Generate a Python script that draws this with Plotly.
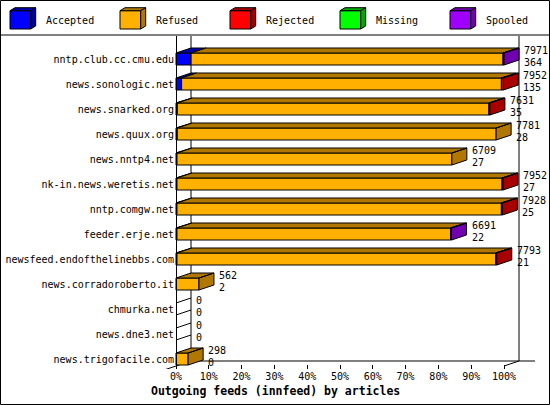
import plotly.graph_objects as go

hosts = ['nntp.club.cc.cmu.edu', 'news.sonologic.net', 'news.snarked.org', 'news.quux.org',
         'news.nntp4.net', 'nk-in.news.weretis.net', 'nntp.comgw.net', 'feeder.erje.net',
         'newsfeed.endofthelinebbs.com', 'news.corradoroberto.it', 'chmurka.net',
         'news.dne3.net', 'news.trigofacile.com']
series = ['Accepted', 'Refused', 'Rejected', 'Missing', 'Spooled']

# bar lengths in %
accepted = [4.6, 1.7, 0.4, 0.4, 0.3, 0.3, 0.3, 0.3, 0.3, 0, 0, 0, 0]
refused = [95.1, 97.5, 95.0, 97.2, 83.8, 99.1, 98.9, 83.4, 97.2, 7.0, 0, 0, 3.7]
rejected = [0, 0.6, 0.3, 0, 0, 0.3, 0.3, 0, 0.3, 0, 0, 0, 0]
missing = [0, 0, 0, 0, 0, 0, 0, 0, 0, 0, 0, 0, 0]
spooled = [0.3, 0, 0, 0, 0, 0, 0, 0.3, 0, 0, 0, 0, 0]

# numbers printed at the end of each bar
offered_lbl = [7971, 7952, 7631, 7781, 6709, 7952, 7928, 6691, 7793, 562, 0, 0, 298]
accepted_lbl = [364, 135, 35, 28, 27, 27, 25, 22, 21, 2, 0, 0, 0]

x_ticks = list(range(0, 101, 10))
x_ticktext = ['%d%%' % t for t in x_ticks]

colors = ['#0000ff', '#ffb000', '#ff0000', '#00ff00', '#a000ff']
shades = ['#0000a8', '#b07800', '#a80000', '#00a800', '#7000b0']

W, H = 550, 405
PX_PCT = 3.28      # pixels per percent
X0 = 176           # pixel of 0%
ROW = 25           # pixels between rows
LAST_Y = 359       # pixel of last row centre
TOP, BOT = 36, 369
DX = 15 / PX_PCT   # 3d depth
DY = 5 / ROW
HB = 6 / ROW       # half bar height

n = len(hosts)
ypos = [n - 1 - i for i in range(n)]
values = [accepted, refused, rejected, missing, spooled]

front = [([], []) for _ in series]
dark = [([], []) for _ in series]


def add(poly, pts):
    for x, y in pts + [pts[0]]:
        poly[0].append(x)
        poly[1].append(y)
    poly[0].append(None)
    poly[1].append(None)


totals = []
zero_x, zero_y = [], []
for r in range(n):
    yt, yb = ypos[r] + HB, ypos[r] - HB
    nz = [k for k in range(len(series)) if values[k][r] > 0]
    left = 0
    for k in nz:
        x1 = left + values[k][r]
        add(front[k], [(left, yb), (x1, yb), (x1, yt), (left, yt)])
        add(dark[k], [(left, yt), (left + DX, yt + DY), (x1 + DX, yt + DY), (x1, yt)])
        if k == nz[-1]:
            add(dark[k], [(x1, yb), (x1 + DX, yb + DY), (x1 + DX, yt + DY), (x1, yt)])
        left = x1
    totals.append(left)
    if not nz:
        for y in (yt, yb):
            zero_x += [0, DX, None]
            zero_y += [y, y + DY, None]

y_floor = (LAST_Y - 366) / ROW
y_top = (LAST_Y - TOP) / ROW
x_end = (535 - X0) / PX_PCT

# back walls and floor
frame_x = [DX, DX, None, 100 + DX, 100 + DX, None, DX, x_end, None,
           100, 100 + DX, None, -DX, DX, None] + zero_x
frame_y = [y_floor + DY, y_top, None, y_floor + DY, y_top, None, y_floor + DY, y_floor + DY, None,
           y_floor, y_floor + DY, None, y_floor - DY, y_floor + DY, None] + zero_y

fig = go.Figure()
fig.add_trace(go.Scatter(x=frame_x, y=frame_y, mode='lines', line=dict(color='black', width=1),
                         hoverinfo='skip', showlegend=False))

for k in range(len(series)):
    for poly, col in ((front[k], colors[k]), (dark[k], shades[k])):
        if poly[0]:
            fig.add_trace(go.Scatter(x=poly[0], y=poly[1], mode='lines', fill='toself',
                                     fillcolor=col, line=dict(color='black', width=1),
                                     name=series[k], hoverinfo='skip', showlegend=False))

small = dict(family='DejaVu Sans Mono', size=10, color='black')
annotations = []
for r in range(n):
    for txt, shift in ((offered_lbl[r], 9), (accepted_lbl[r], -3)):
        annotations.append(dict(x=totals[r], y=ypos[r], xref='x', yref='y', text=str(txt),
                                showarrow=False, xanchor='left', yanchor='middle',
                                xshift=DX * PX_PCT + 3, yshift=shift, font=small))

annotations.append(dict(x=0.5, y=1 - 391 / H, xref='paper', yref='paper',
                        xanchor='center', yanchor='middle',
                        text='<b>Outgoing feeds (innfeed) by articles</b>', showarrow=False,
                        font=dict(family='DejaVu Sans Mono', size=11.5, color='black')))


def px(x):
    return x / W


def py(y):
    return 1 - y / H


# legend with little cubes
shapes = []
for k, name in enumerate(series):
    lx = 10 + 110 * k
    shapes.append(dict(type='rect', xref='paper', yref='paper', x0=px(lx), x1=px(lx + 20.7),
                       y0=py(29), y1=py(10.7), fillcolor=colors[k], line=dict(color='black', width=1)))
    top = 'M %f %f L %f %f L %f %f L %f %f Z' % (px(lx), py(10.7), px(lx + 5), py(7.7),
                                                 px(lx + 25.7), py(7.7), px(lx + 20.7), py(10.7))
    side = 'M %f %f L %f %f L %f %f L %f %f Z' % (px(lx + 20.7), py(10.7), px(lx + 25.7), py(7.7),
                                                  px(lx + 25.7), py(26), px(lx + 20.7), py(29))
    for path in (top, side):
        shapes.append(dict(type='path', xref='paper', yref='paper', path=path,
                           fillcolor=shades[k], line=dict(color='black', width=1)))
    annotations.append(dict(x=px(lx + 34), y=py(20), xref='paper', yref='paper', text=name,
                            showarrow=False, xanchor='left', yanchor='middle', font=small))

shapes.append(dict(type='line', xref='paper', yref='paper', x0=0, x1=1, y0=py(35), y1=py(35),
                   line=dict(color='black', width=1)))
shapes.append(dict(type='rect', xref='paper', yref='paper', x0=px(0.5), x1=px(W - 0.5),
                   y0=py(H - 0.5), y1=py(0.5), line=dict(color='black', width=1)))

fig.update_layout(
    template='none',
    width=W, height=H,
    margin=dict(l=0, r=0, t=0, b=0, pad=0, autoexpand=False),
    paper_bgcolor='white', plot_bgcolor='white',
    font=small,
    xaxis=dict(domain=[0, 1], range=[-X0 / PX_PCT, (W - X0) / PX_PCT], anchor='y',
               tickvals=x_ticks, ticktext=x_ticktext, ticks='inside', ticklen=4, automargin=False,
               tickcolor='black', showline=False, showgrid=False, zeroline=False, tickfont=small),
    yaxis=dict(domain=[1 - BOT / H, 1 - TOP / H], range=[(LAST_Y - BOT) / ROW, (LAST_Y - TOP) / ROW],
               anchor='free', position=X0 / W, showline=True, linecolor='black', linewidth=1,
               automargin=False, tickvals=ypos, ticktext=hosts, ticks='', showgrid=False,
               zeroline=False, tickfont=small),
    annotations=annotations,
    shapes=shapes,
)

# page has a default 8px body margin; drop it so the chart sits at the top-left corner
fig.write_html('out.html', config={'displayModeBar': False},
               post_script="document.body.style.margin='0';")
